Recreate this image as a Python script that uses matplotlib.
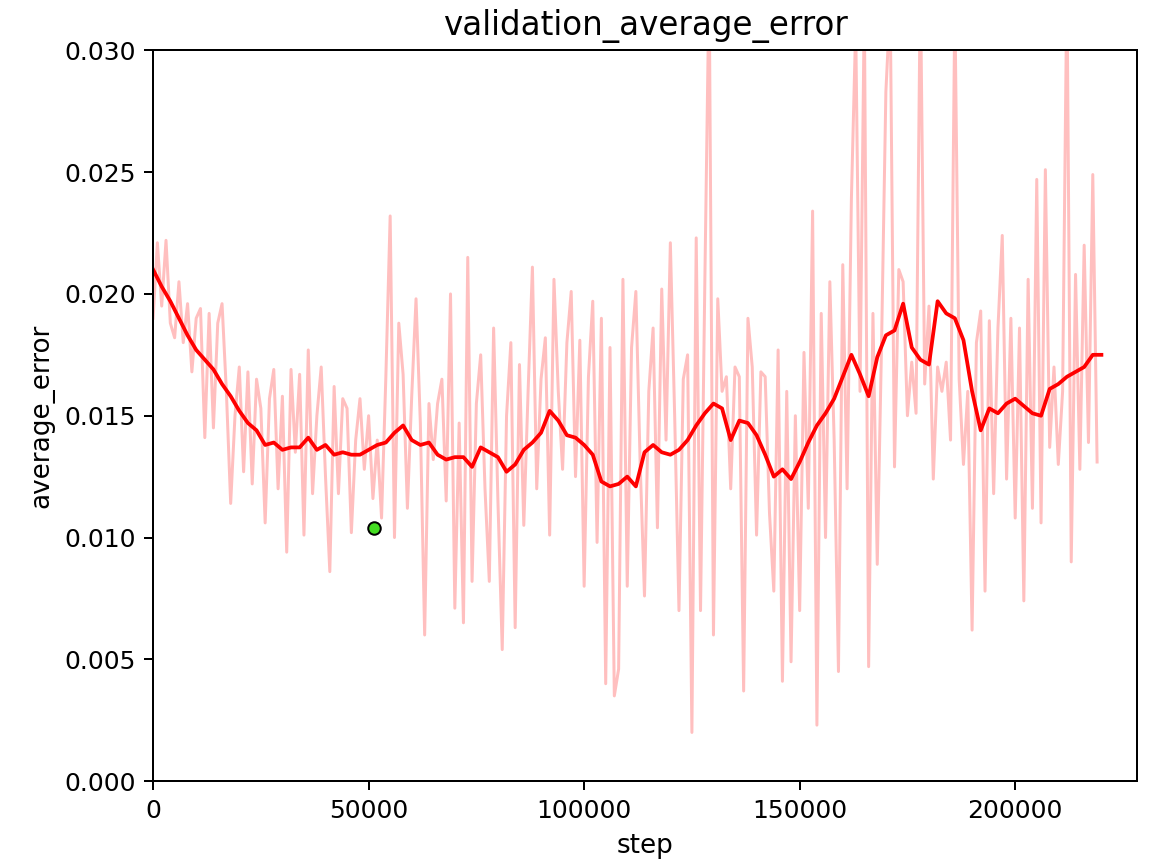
import numpy as np
import matplotlib
matplotlib.use('Agg')
from matplotlib import pyplot as plt

# Raw validation error, one value every 1000 steps (values above 0.03 are clipped by the axis)
raw_steps = np.arange(0, 220) * 1000
raw_error = [
    0.0190, 0.0221, 0.0195, 0.0222, 0.0188, 0.0182, 0.0205, 0.0180, 0.0196, 0.0168,
    0.0190, 0.0194, 0.0141, 0.0192, 0.0145, 0.0188, 0.0196, 0.0160, 0.0114, 0.0150,
    0.0170, 0.0127, 0.0168, 0.0122, 0.0165, 0.0153, 0.0106, 0.0157, 0.0169, 0.0120,
    0.0158, 0.0094, 0.0169, 0.0135, 0.0167, 0.0101, 0.0177, 0.0118, 0.0150, 0.0170,
    0.0125, 0.0086, 0.0162, 0.0118, 0.0157, 0.0153, 0.0102, 0.0140, 0.0157, 0.0128,
    0.0150, 0.0116, 0.0140, 0.0108, 0.0166, 0.0232, 0.0100, 0.0188, 0.0167, 0.0112,
    0.0158, 0.0198, 0.0147, 0.0060, 0.0155, 0.0132, 0.0155, 0.0165, 0.0115, 0.0200,
    0.0071, 0.0147, 0.0065, 0.0215, 0.0082, 0.0155, 0.0175, 0.0120, 0.0082, 0.0186,
    0.0115, 0.0054, 0.0150, 0.0180, 0.0063, 0.0171, 0.0105, 0.0160, 0.0211, 0.0120,
    0.0165, 0.0182, 0.0101, 0.0206, 0.0160, 0.0128, 0.0180, 0.0201, 0.0125, 0.0181,
    0.0080, 0.0166, 0.0197, 0.0098, 0.0190, 0.0040, 0.0178, 0.0035, 0.0046, 0.0206,
    0.0080, 0.0178, 0.0201, 0.0130, 0.0076, 0.0160, 0.0186, 0.0104, 0.0202, 0.0140,
    0.0221, 0.0150, 0.0070, 0.0165, 0.0175, 0.0020, 0.0223, 0.0070, 0.0205, 0.0330,
    0.0060, 0.0198, 0.0160, 0.0166, 0.0120, 0.0170, 0.0166, 0.0037, 0.0190, 0.0170,
    0.0101, 0.0168, 0.0166, 0.0110, 0.0078, 0.0177, 0.0041, 0.0160, 0.0049, 0.0150,
    0.0070, 0.0176, 0.0112, 0.0234, 0.0023, 0.0192, 0.0100, 0.0205, 0.0140, 0.0045,
    0.0212, 0.0120, 0.0239, 0.0310, 0.0160, 0.0320, 0.0047, 0.0192, 0.0089, 0.0180,
    0.0283, 0.0320, 0.0129, 0.0210, 0.0205, 0.0150, 0.0172, 0.0151, 0.0330, 0.0163,
    0.0195, 0.0124, 0.0170, 0.0160, 0.0172, 0.0140, 0.0320, 0.0165, 0.0130, 0.0160,
    0.0062, 0.0180, 0.0193, 0.0078, 0.0189, 0.0118, 0.0186, 0.0224, 0.0124, 0.0190,
    0.0108, 0.0186, 0.0074, 0.0206, 0.0112, 0.0247, 0.0106, 0.0251, 0.0137, 0.0170,
    0.0130, 0.0160, 0.0330, 0.0090, 0.0208, 0.0128, 0.0220, 0.0139, 0.0249, 0.0131,
]

# Smoothed error, one value every 2000 steps
smooth_steps = np.arange(0, 111) * 2000
smooth_error = [
    0.0210, 0.0203, 0.0197, 0.0190, 0.0183, 0.0177, 0.0173, 0.0169, 0.0163, 0.0158,
    0.0152, 0.0147, 0.0144, 0.0138, 0.0139, 0.0136, 0.0137, 0.0137, 0.0141, 0.0136,
    0.0138, 0.0134, 0.0135, 0.0134, 0.0134, 0.0136, 0.0138, 0.0139, 0.0143, 0.0146,
    0.0140, 0.0138, 0.0139, 0.0134, 0.0132, 0.0133, 0.0133, 0.0129, 0.0137, 0.0135,
    0.0133, 0.0127, 0.0130, 0.0136, 0.0139, 0.0143, 0.0152, 0.0148, 0.0142, 0.0141,
    0.0138, 0.0134, 0.0123, 0.0121, 0.0122, 0.0125, 0.0121, 0.0135, 0.0138, 0.0135,
    0.0134, 0.0136, 0.0140, 0.0146, 0.0151, 0.0155, 0.0153, 0.0140, 0.0148, 0.0147,
    0.0142, 0.0134, 0.0125, 0.0128, 0.0124, 0.0131, 0.0139, 0.0146, 0.0151, 0.0157,
    0.0166, 0.0175, 0.0167, 0.0158, 0.0174, 0.0183, 0.0185, 0.0196, 0.0178, 0.0173,
    0.0171, 0.0197, 0.0192, 0.0190, 0.0181, 0.0160, 0.0144, 0.0153, 0.0151, 0.0155,
    0.0157, 0.0154, 0.0151, 0.0150, 0.0161, 0.0163, 0.0166, 0.0168, 0.0170, 0.0175,
    0.0175,
]

# Best point marker
best_step = [51300]
best_error = [0.0104]

fig = plt.figure(figsize=(1151 / 180, 867 / 180), dpi=180)
ax = fig.add_subplot(111)
fig.subplots_adjust(left=0.133, right=0.988, top=0.942, bottom=0.099)

ax.plot(raw_steps, raw_error, color='red', alpha=0.25, linewidth=1.2)
ax.plot(smooth_steps, smooth_error, color='red', linewidth=1.5)
ax.plot(best_step, best_error, 'o', color='#44dd22', markeredgecolor='black',
        markersize=5, markeredgewidth=0.8)

ax.set_xlim(0, 228300)
ax.set_ylim(0, 0.03)
ax.set_title('validation_average_error', fontsize=13)
ax.set_xlabel('step', fontsize=10.5)
ax.set_ylabel('average_error', fontsize=10.5)

plt.savefig('out.png', dpi=180)
